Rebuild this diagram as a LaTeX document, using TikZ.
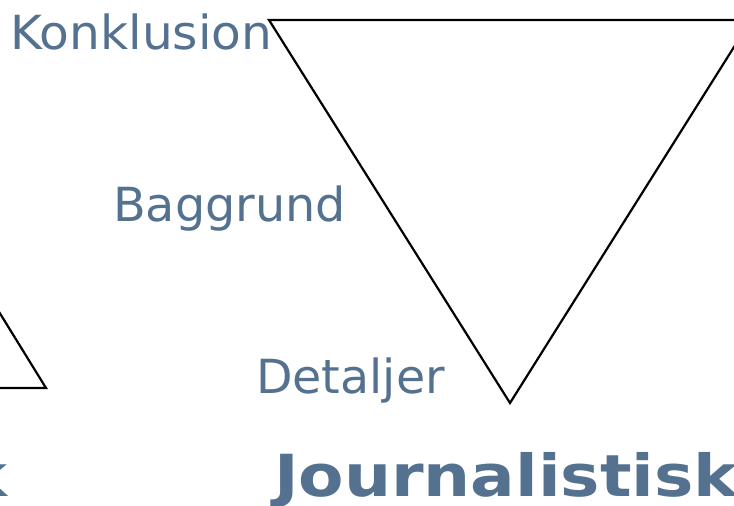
\documentclass[tikz,border=0pt]{standalone}
\usepackage{fontspec}
\usepackage{graphicx}
\setmainfont{DejaVu Sans}
\definecolor{txtblue}{RGB}{84,114,143}
\newcommand{\widelbl}[2]{\scalebox{#1}[1]{#2}}
\newcommand{\widettl}[1]{\scalebox{1.14}[1]{#1}}
\tikzset{
  lbl/.style={anchor=base west, inner sep=0pt, text=txtblue, font=\fontsize{47}{56}\selectfont},
  ttl/.style={anchor=base west, inner sep=0pt, text=txtblue, font=\fontsize{58}{68}\selectfont\bfseries},
  tri/.style={draw=black, line width=2.2pt, line join=miter}
}
\begin{document}
\begin{tikzpicture}[x=1pt,y=-1pt]
\useasboundingbox (0,0) rectangle (734,506);
\begin{scope}
\clip (0,0) rectangle (734,506);
\draw[tri] (269,20) -- (751,20) -- (510,403) -- cycle;
\draw[tri] (-20,281) -- (46,388) -- (-100,388);
\node[lbl] (konk) at (10,49) {\widelbl{1.035}{Konklusion}};
\node[lbl] (bagg) at (113,221) {\widelbl{1.015}{Baggrund}};
\node[lbl] (deta) at (256,393) {\widelbl{1.01}{Detaljer}};
\node[ttl] (journ) at (274,496) {\widettl{Journalistisk}};
\node[ttl, anchor=base east] (akad) at (8,496) {\widettl{k}};
\end{scope}
\end{tikzpicture}
\end{document}
